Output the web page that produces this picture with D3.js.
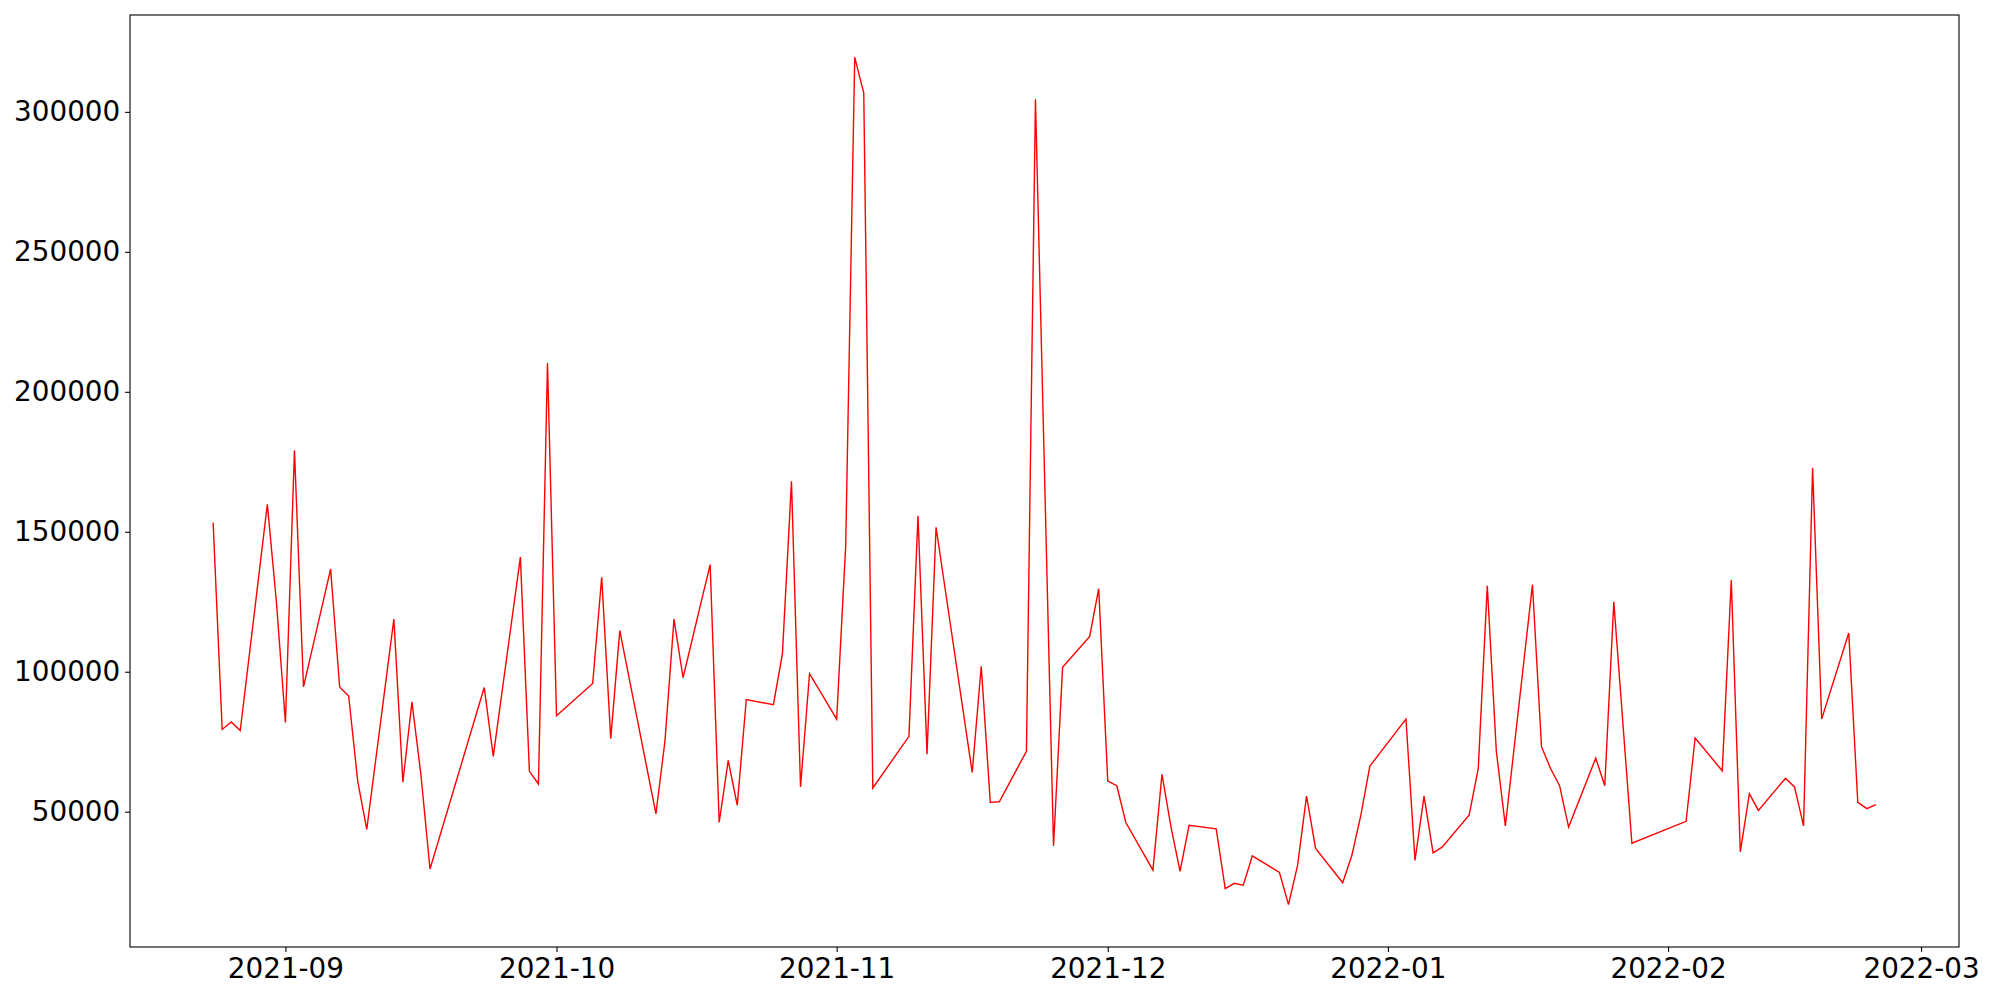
<!DOCTYPE html>
<html>
<head>
<meta charset="utf-8">
<script src="https://cdn.jsdelivr.net/npm/d3@7"></script>
<style>
  body { margin: 0; background: #fff; }
  #chart1 text { font-family: "DejaVu Sans", sans-serif; font-size: 27.8px; fill: #000; }
</style>
</head>
<body>
<svg id="chart1" width="2000" height="1000"></svg>
<script>
// daily values (gaps are days with no record)
let dates = [
  "2021-08-24","2021-08-25","2021-08-26","2021-08-27","2021-08-30","2021-08-31",
  "2021-09-01","2021-09-02","2021-09-03","2021-09-06","2021-09-07","2021-09-08",
  "2021-09-09","2021-09-10","2021-09-13","2021-09-14","2021-09-15","2021-09-16",
  "2021-09-17","2021-09-23","2021-09-24","2021-09-27","2021-09-28","2021-09-29",
  "2021-09-30","2021-10-01","2021-10-05","2021-10-06","2021-10-07","2021-10-08",
  "2021-10-12","2021-10-13","2021-10-14","2021-10-15","2021-10-18","2021-10-19",
  "2021-10-20","2021-10-21","2021-10-22","2021-10-25","2021-10-26","2021-10-27",
  "2021-10-28","2021-10-29","2021-11-01","2021-11-02","2021-11-03","2021-11-04",
  "2021-11-05","2021-11-09","2021-11-10","2021-11-11","2021-11-12","2021-11-16",
  "2021-11-17","2021-11-18","2021-11-19","2021-11-22","2021-11-23","2021-11-25",
  "2021-11-26","2021-11-29","2021-11-30","2021-12-01","2021-12-02","2021-12-03",
  "2021-12-06","2021-12-07","2021-12-08","2021-12-09","2021-12-10","2021-12-13",
  "2021-12-14","2021-12-15","2021-12-16","2021-12-17","2021-12-20","2021-12-21",
  "2021-12-22","2021-12-23","2021-12-24","2021-12-27","2021-12-28","2021-12-29",
  "2021-12-30","2022-01-03","2022-01-04","2022-01-05","2022-01-06","2022-01-07",
  "2022-01-10","2022-01-11","2022-01-12","2022-01-13","2022-01-14","2022-01-17",
  "2022-01-18","2022-01-19","2022-01-20","2022-01-21","2022-01-24","2022-01-25",
  "2022-01-26","2022-01-28","2022-02-03","2022-02-04","2022-02-07","2022-02-08",
  "2022-02-09","2022-02-10","2022-02-11","2022-02-14","2022-02-15","2022-02-16",
  "2022-02-17","2022-02-18","2022-02-21","2022-02-22","2022-02-23","2022-02-24"
];
let values = [
  153260, 79390, 82060, 78980, 159830, 124940,
  81850, 179120, 94570, 136640, 94570, 91290,
  60920, 43690, 118790, 60510, 89240, 62970,
  29530, 94370, 69750, 140950, 64410, 59890,
  210310, 84310, 95810, 133770, 76110, 114680,
  49230, 75290, 118790, 97860, 138280, 46150,
  68310, 52300, 90060, 88210, 106480, 168040,
  58870, 99290, 83080, 145050, 319470, 306750,
  58460, 76920, 155720, 70570, 151620, 64000,
  101960, 53330, 53540, 71590, 304490, 37730,
  101550, 112630, 129660, 60920, 59280, 46150,
  29110, 63380, 44510, 28710, 45120, 43890,
  22550, 24400, 23780, 34250, 28300, 16800,
  30760, 55590, 36910, 24600, 34250, 48610,
  66260, 83080, 32600, 55590, 35270, 37320,
  48820, 65430, 130690, 71590, 44920, 131100,
  73230, 65430, 59280, 44510, 69130, 59280,
  124940, 38760, 46560, 76310, 64610, 132740,
  35680, 56410, 50450, 61950, 58870, 44920,
  172760, 83080, 113860, 53330, 51080, 52500
];
let yTicks = [50000, 100000, 150000, 200000, 250000, 300000];

let margin = { left: 130, right: 41, top: 15, bottom: 53 };
let width = 2000;
let height = 1000;
let tickLen = 4.9;
let tickPad = 4.9;

let parseDate = d3.timeParse("%Y-%m-%d");
let data = dates.map((d, i) => ({ x: parseDate(d), y: values[i] }));

// matplotlib-like 5% padding on both axes
let xExt = d3.extent(data, d => d.x);
let xPad = (xExt[1] - xExt[0]) * 0.05;
let yExt = d3.extent(data, d => d.y);
let yPad = (yExt[1] - yExt[0]) * 0.05;

let xTime = d3.scaleTime()
  .domain([new Date(+xExt[0] - xPad), new Date(+xExt[1] + xPad)])
  .range([margin.left, width - margin.right]);
let yLinear = d3.scaleLinear()
  .domain([yExt[0] - yPad, yExt[1] + yPad])
  .range([height - margin.bottom, margin.top]);

let svg = d3.select("#chart1");

let line = d3.line()
  .x(d => xTime(d.x))
  .y(d => yLinear(d.y));

svg.append("path")
  .datum(data)
  .attr("fill", "none")
  .attr("stroke", "#ff0000")
  .attr("stroke-width", 1.4)
  .attr("stroke-linejoin", "miter")
  .attr("d", line);

let xAxis = d3.axisBottom(xTime)
  .ticks(d3.timeMonth.every(1))
  .tickFormat(d3.timeFormat("%Y-%m"))
  .tickSize(tickLen)
  .tickPadding(tickPad);
let xAxisG = svg.append("g")
  .attr("transform", "translate(0," + (height - margin.bottom) + ")")
  .call(xAxis);

let yAxis = d3.axisLeft(yLinear)
  .tickValues(yTicks)
  .tickFormat(d3.format("d"))
  .tickSize(tickLen)
  .tickPadding(tickPad);
let yAxisG = svg.append("g")
  .attr("transform", "translate(" + margin.left + ",0)")
  .call(yAxis);

[xAxisG, yAxisG].forEach(g => {
  g.select(".domain").remove();
  g.selectAll(".tick line").attr("stroke", "#000").attr("stroke-width", 1.1);
  g.selectAll(".tick text").attr("font-family", null).attr("font-size", null);
});
xAxisG.selectAll(".tick text").attr("dy", "0.76em");

// axes frame
svg.append("rect")
  .attr("x", margin.left)
  .attr("y", margin.top)
  .attr("width", width - margin.left - margin.right)
  .attr("height", height - margin.top - margin.bottom)
  .attr("fill", "none")
  .attr("stroke", "#000")
  .attr("stroke-width", 1.1);
</script>
</body>
</html>
